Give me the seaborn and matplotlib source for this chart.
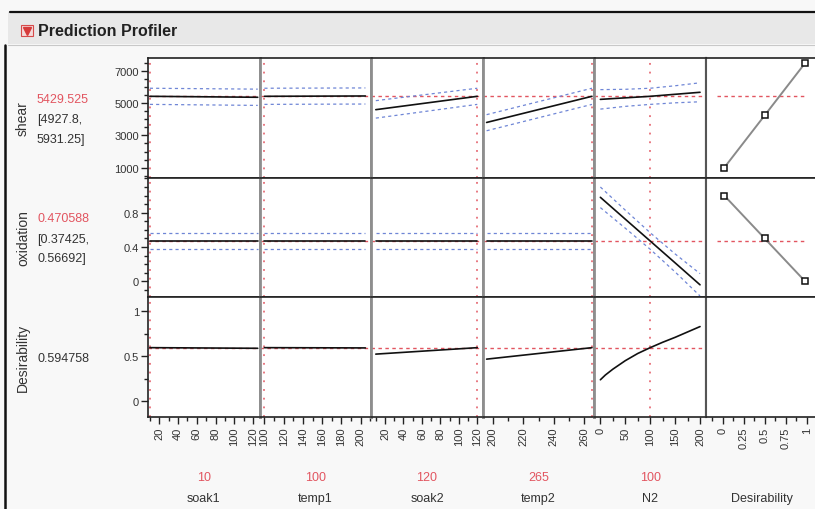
import numpy as np
import pandas as pd
import seaborn as sns
import matplotlib.pyplot as plt
from matplotlib.patches import Rectangle
from matplotlib.lines import Line2D
from matplotlib.ticker import MultipleLocator

# ---------------------------------------------------------------
# data read off the profiler
# ---------------------------------------------------------------
factors = ["soak1", "temp1", "soak2", "temp2", "N2"]
factor_current = [10, 100, 120, 265, 100]
factor_xlim = [(8, 127), (95, 211), (5, 126), (193.5, 266.6), (-12, 212)]
factor_ticks = [[20, 40, 60, 80, 100, 120],
                [100, 120, 140, 160, 180, 200],
                [20, 40, 60, 80, 100, 120],
                [200, 220, 240, 260],
                [0, 50, 100, 150, 200]]
factor_minor = [10, 10, 10, 10, 25]

soak1_x = [10, 125]
temp1_x = [100, 205]
soak2_x = [10, 120]
temp2_x = [196, 265]
n2_x = [0, 50, 100, 150, 200]
n2_fine_x = [0, 10, 25, 50, 75, 100, 125, 150, 175, 200]

shear_mean = [[5430, 5370], [5430, 5450], [4600, 5430], [3805, 5430],
              [5240, 5335, 5430, 5555, 5680]]
shear_lower = [[4928, 4865], [4928, 4950], [4075, 4928], [3290, 4928],
               [4635, 4805, 4928, 5025, 5090]]
shear_upper = [[5931, 5875], [5931, 5950], [5160, 5931], [4290, 5931],
               [5845, 5865, 5931, 6085, 6270]]

oxid_mean = [[0.4706, 0.4706], [0.4706, 0.4706], [0.4706, 0.4706], [0.4706, 0.4706],
             [0.98, 0.725, 0.4706, 0.216, -0.04]]
oxid_lower = [[0.3743, 0.3743], [0.3743, 0.3743], [0.3743, 0.3743], [0.3743, 0.3743],
              [0.86, 0.62, 0.3743, 0.11, -0.17]]
oxid_upper = [[0.5669, 0.5669], [0.5669, 0.5669], [0.5669, 0.5669], [0.5669, 0.5669],
              [1.10, 0.83, 0.5669, 0.32, 0.09]]

desir_mean = [[0.595, 0.588], [0.595, 0.592], [0.523, 0.595], [0.467, 0.595],
              [0.237, 0.29, 0.355, 0.45, 0.53, 0.595, 0.655, 0.71, 0.77, 0.83]]

responses = ["shear", "oxidation", "Desirability"]
resp_value = [5429.525, 0.470588, 0.594758]
resp_text = ["5429.525", "0.470588", "0.594758"]
resp_ci = [["[4927.8,", "5931.25]"], ["[0.37425,", "0.56692]"], []]
resp_ylim = [(375, 7810), (-0.186, 1.209), (-0.178, 1.156)]
resp_ticks = [[1000, 3000, 5000, 7000], [0, 0.4, 0.8], [0, 0.5, 1]]
resp_ticklabels = [["1000", "3000", "5000", "7000"], ["0", "0.4", "0.8"], ["0", "0.5", "1"]]
resp_minor = [500, 0.1, 0.25]

des_x = [0.0183, 0.5, 0.9817]
shear_des_y = [1000, 4250, 7500]
oxid_des_y = [1.0, 0.5, 0.0]
des_xlim = (-0.2, 1.13)
des_ticks = [0, 0.25, 0.5, 0.75, 1]
des_ticklabels = ["0", "0.25", "0.5", "0.75", "1"]
des_ref_span = (-0.07, 0.98)

# ---------------------------------------------------------------
# style
# ---------------------------------------------------------------
sns.set_style("white")
plt.rcParams["font.family"] = ["Liberation Sans", "DejaVu Sans"]

W, H = 815, 510
RED = "#e25560"
BLUE = "#6f86d6"
TXT = "#333333"
BG = "#f8f8f8"

fig, axes = plt.subplots(3, 6, figsize=(W / 100, H / 100), dpi=100,
                         gridspec_kw=dict(left=148 / W, right=817.6 / W,
                                          top=1 - 59 / H, bottom=1 - 418 / H,
                                          wspace=0, hspace=0))
fig.patch.set_facecolor(BG)


def ftext(x, y, s, **kw):
    fig.text(x / W, 1 - y / H, s, **kw)


x_points = [soak1_x, temp1_x, soak2_x, temp2_x, n2_x]
means = [shear_mean, oxid_mean, desir_mean]
lowers = [shear_lower, oxid_lower, None]
uppers = [shear_upper, oxid_upper, None]

for r in range(3):
    for c in range(6):
        ax = axes[r, c]
        ax.set_facecolor("white")
        ax.set_ylim(*resp_ylim[r])
        ax.tick_params(which="both", left=False, bottom=False,
                       labelleft=False, labelbottom=False)
        for s in ax.spines.values():
            s.set_color("#222222")
            s.set_linewidth(1.2)

        if c < 5:
            ax.set_xlim(*factor_xlim[c])
            xs = n2_fine_x if (r == 2 and c == 4) else x_points[c]
            ax.axhline(resp_value[r], color=RED, lw=1, ls=(0, (2.5, 2.5)), zorder=1)
            ax.axvline(factor_current[c], color=RED, lw=1.1, ls=(0, (1.2, 4.5)), zorder=1)
            if lowers[r] is not None:
                sns.lineplot(x=xs, y=lowers[r][c], ax=ax, color=BLUE, lw=0.9,
                             ls=(0, (2.5, 2.5)), zorder=2)
                sns.lineplot(x=xs, y=uppers[r][c], ax=ax, color=BLUE, lw=0.9,
                             ls=(0, (2.5, 2.5)), zorder=2)
            sns.lineplot(x=xs, y=means[r][c], ax=ax, color="#111111", lw=1.2, zorder=3)
            if c < 4:
                ax.spines["right"].set_color("#8e8e8e")
                ax.spines["right"].set_linewidth(2.0)
            else:
                ax.spines["right"].set_color("#555555")
                ax.spines["right"].set_linewidth(1.5)
            if c > 0:
                ax.spines["left"].set_color("#8e8e8e")
                ax.spines["left"].set_linewidth(2.0)
        else:
            ax.set_xlim(*des_xlim)
            ax.spines["right"].set_visible(False)
            ax.spines["left"].set_color("#555555")
            ax.spines["left"].set_linewidth(1.5)
            if r < 2:
                ax.hlines(resp_value[r], *des_ref_span, color=RED, lw=1,
                          ls=(0, (2.5, 2.5)), zorder=1)
                des_y = shear_des_y if r == 0 else oxid_des_y
                sns.lineplot(x=des_x, y=des_y, ax=ax, color="#8a8a8a", lw=1.4,
                             marker="s", ms=5, mfc="white", mec="#111111",
                             mew=1.1, zorder=3)
        ax.set_xlabel("")
        ax.set_ylabel("")

        # left axis ticks
        if c == 0:
            ax.set_yticks(resp_ticks[r])
            ax.set_yticklabels(resp_ticklabels[r])
            ax.yaxis.set_minor_locator(MultipleLocator(resp_minor[r]))
            ax.tick_params(axis="y", which="both", left=True, labelleft=True,
                           direction="out", colors="#222222", labelcolor=TXT,
                           labelsize=8, pad=1.5)
            ax.tick_params(axis="y", which="major", length=5, width=1)
            ax.tick_params(axis="y", which="minor", length=3, width=1)
        # bottom axis ticks
        if r == 2:
            if c < 5:
                ax.set_xticks(factor_ticks[c])
                ax.set_xticklabels([str(t) for t in factor_ticks[c]], rotation=90)
                ax.xaxis.set_minor_locator(MultipleLocator(factor_minor[c]))
            else:
                ax.set_xticks(des_ticks)
                ax.set_xticklabels(des_ticklabels, rotation=90)
                ax.xaxis.set_minor_locator(MultipleLocator(0.125))
            ax.tick_params(axis="x", which="both", bottom=True, labelbottom=True,
                           direction="out", colors="#222222", labelcolor=TXT,
                           labelsize=8, pad=2)
            ax.tick_params(axis="x", which="major", length=5, width=1)
            ax.tick_params(axis="x", which="minor", length=3, width=1)

# ---------------------------------------------------------------
# header band and frame
# ---------------------------------------------------------------
fig.patches.append(Rectangle((8 / W, 1 - 45 / H), 1, 32 / H, transform=fig.transFigure,
                             facecolor="#e8e8e8", edgecolor="none", zorder=0))
fig.lines.append(Line2D([10 / W, 1], [1 - 13 / H, 1 - 13 / H], transform=fig.transFigure,
                        color="#111111", lw=1.6))
fig.lines.append(Line2D([8 / W, 1], [1 - 45.5 / H, 1 - 45.5 / H], transform=fig.transFigure,
                        color="#c8c8c8", lw=0.8))
fig.lines.append(Line2D([5 / W, 5 / W], [0, 1 - 46 / H], transform=fig.transFigure,
                        color="#111111", lw=1.8))
fig.patches.append(Rectangle((21 / W, 1 - 37 / H), 12 / W, 11 / H, transform=fig.transFigure,
                             facecolor="#f4dada", edgecolor="#d64a4a", lw=0.8, zorder=2))
fig.lines.append(Line2D([27 / W], [1 - 31.5 / H], transform=fig.transFigure, marker="v",
                        ms=5.5, color="#d63a3a", mec="#d63a3a", ls="none", zorder=3))
ftext(38, 31, "Prediction Profiler", fontsize=11.5, fontweight="bold", color="#222222",
      va="center", ha="left")

# ---------------------------------------------------------------
# response labels on the left
# ---------------------------------------------------------------
row_top, row_h = 59, (418 - 59) / 3
for r in range(3):
    yc = row_top + row_h * (r + 0.5)
    ftext(23, yc, responses[r], rotation=90, fontsize=10, color=TXT,
          ha="center", va="center")
    lines = [resp_text[r]] + resp_ci[r]
    n = len(lines)
    for i, s in enumerate(lines):
        y = yc + 1 + (i - (n - 1) / 2) * 20
        ftext(37, y, s, fontsize=9, ha="left", va="center",
              color=RED if (i == 0 and r < 2) else TXT)

# ---------------------------------------------------------------
# factor labels at the bottom
# ---------------------------------------------------------------
col_w = (817.6 - 148) / 6
for c in range(6):
    xc = 148 + col_w * (c + 0.5)
    if c < 5:
        ftext(xc, 478, str(factor_current[c]), fontsize=9, color=RED,
              ha="center", va="center")
        ftext(xc, 499, factors[c], fontsize=9, color=TXT, ha="center", va="center")
    else:
        ftext(xc, 499, "Desirability", fontsize=9, color=TXT, ha="center", va="center")

fig.savefig("out.png", dpi=100, facecolor=BG)
